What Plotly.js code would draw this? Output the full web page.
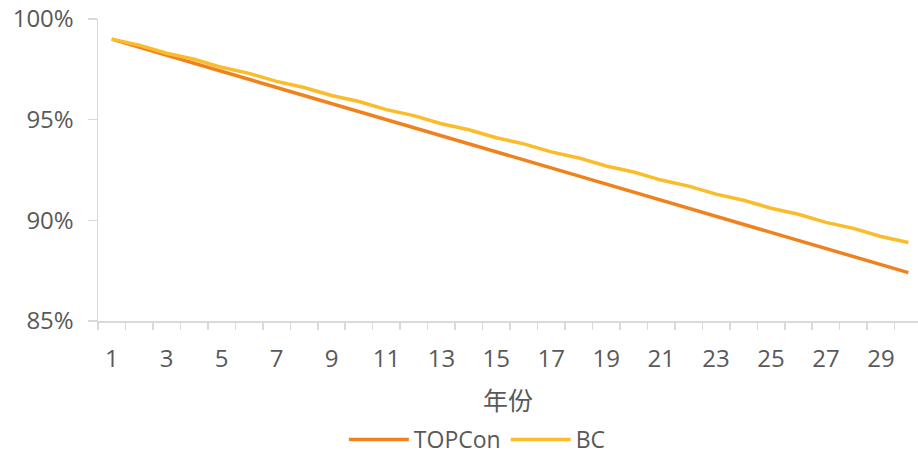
<!DOCTYPE html>
<html>
<head>
<meta charset="utf-8">
<script src="https://cdn.plot.ly/plotly-3.0.1.min.js"></script>
<style>html,body{margin:0;padding:0;background:#fff;}#chart{width:918px;height:461px;}</style>
</head>
<body>
<div id="chart"></div>
<script>
var years = [1,2,3,4,5,6,7,8,9,10,11,12,13,14,15,16,17,18,19,20,21,22,23,24,25,26,27,28,29,30];
var topcon = [99.0,98.6,98.2,97.8,97.4,97.0,96.6,96.2,95.8,95.4,95.0,94.6,94.2,93.8,93.4,93.0,92.6,92.2,91.8,91.4,91.0,90.6,90.2,89.8,89.4,89.0,88.6,88.2,87.8,87.4];
var bc = [99.0,98.7,98.3,98.0,97.6,97.3,96.9,96.6,96.2,95.9,95.5,95.2,94.8,94.5,94.1,93.8,93.4,93.1,92.7,92.4,92.0,91.7,91.3,91.0,90.6,90.3,89.9,89.6,89.2,88.9];
var xTickLabels = ['1','3','5','7','9','11','13','15','17','19','21','23','25','27','29'];
var yTicks = [85,90,95,100];
var seriesNames = ['TOPCon','BC'];

var fontFam = 'Open Sans, "Noto Sans CJK SC", sans-serif';
var data = [
  {x: years, y: topcon, name: seriesNames[0], type: 'scatter', mode: 'lines',
   line: {color: '#F0821E', width: 3.5}},
  {x: years, y: bc, name: seriesNames[1], type: 'scatter', mode: 'lines',
   line: {color: '#FBBC2A', width: 3.5}}
];
var layout = {
  width: 918, height: 461,
  margin: {l: 98, r: 0, t: 19, b: 140},
  paper_bgcolor: '#fff', plot_bgcolor: '#fff',
  font: {family: fontFam, size: 24, color: '#595959'},
  showlegend: true,
  legend: {orientation: 'h', x: 0.52, xref: 'container', xanchor: 'center', y: -0.012, yref: 'container', yanchor: 'bottom',
           font: {size: 23, color: '#595959'}, itemwidth: 60, tracegroupgap: 0},
  xaxis: {
    range: [0.5, 30.35], showgrid: false, zeroline: false,
    showline: true, linecolor: '#D9D9D9', linewidth: 1.5,
    tickmode: 'array', tickvals: xTickLabels.map(Number), ticktext: xTickLabels,
    ticks: '', ticklabelstandoff: 16,
    minor: {tick0: 0.5, dtick: 1, ticks: 'outside', ticklen: 7, tickcolor: '#D9D9D9', tickwidth: 1.5, showgrid: false},
    title: {text: '年份', font: {size: 25, color: '#595959'}, standoff: 19},
    fixedrange: true
  },
  yaxis: {
    range: [85, 100], showgrid: false, zeroline: false,
    showline: true, linecolor: '#D9D9D9', linewidth: 1.5,
    tickmode: 'array', tickvals: yTicks, ticktext: yTicks.map(function(v){return v + '%';}),
    ticks: 'outside', ticklen: 9, tickcolor: '#D9D9D9', tickwidth: 1.5,
    ticklabelstandoff: 9,
    fixedrange: true
  }
};
Plotly.newPlot('chart', data, layout, {displayModeBar: false, staticPlot: true});
</script>
</body>
</html>
